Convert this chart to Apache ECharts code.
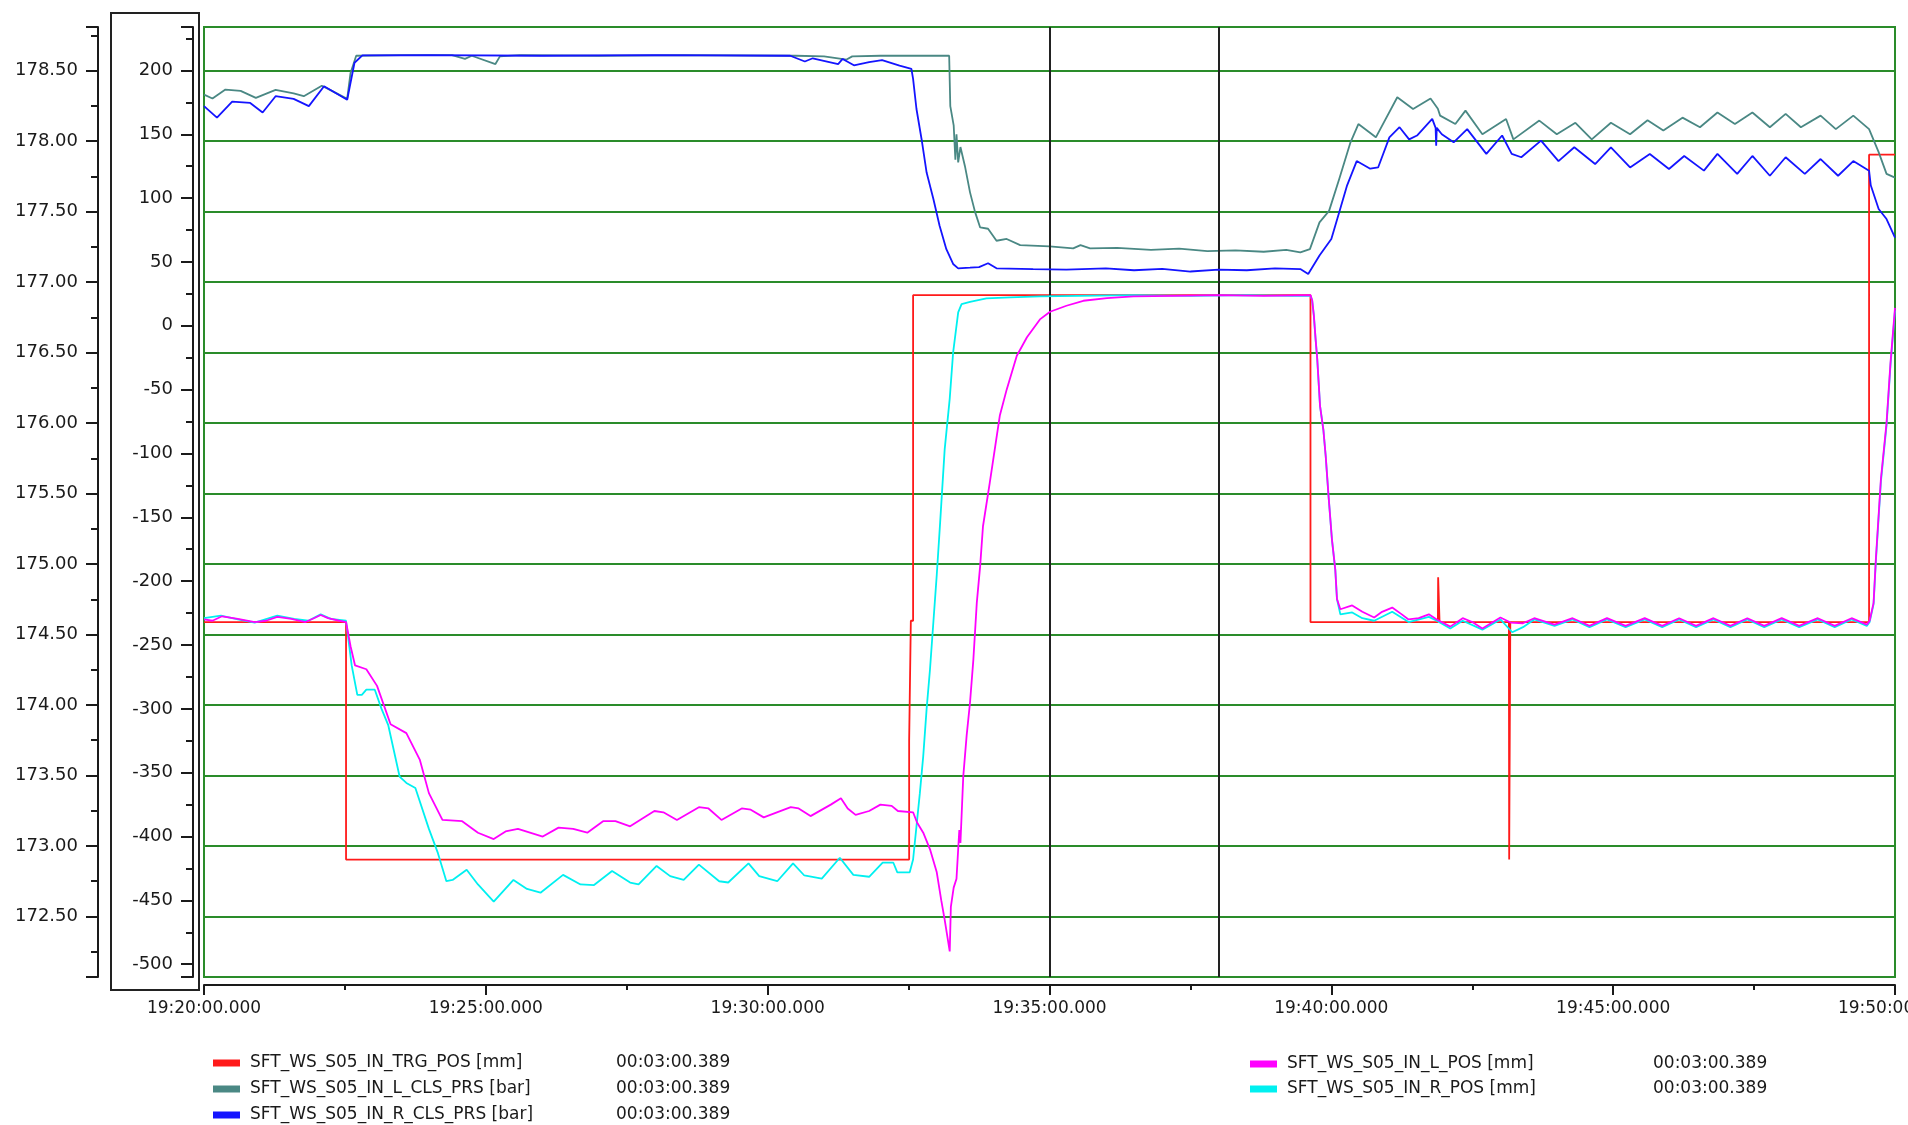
<!DOCTYPE html>
<html>
<head>
<meta charset="utf-8">
<script src="https://cdn.jsdelivr.net/npm/echarts@6/dist/echarts.min.js"></script>
<style>
html,body{margin:0;padding:0;background:#fff;}
#chart{width:1908px;height:1125px;}
</style>
</head>
<body>
<div id="chart"></div>
<script>
// Time values are minutes after 19:20:00.000
const seriesNames = [
  'SFT_WS_S05_IN_TRG_POS [mm]',
  'SFT_WS_S05_IN_L_CLS_PRS [bar]',
  'SFT_WS_S05_IN_R_CLS_PRS [bar]',
  'SFT_WS_S05_IN_L_POS [mm]',
  'SFT_WS_S05_IN_R_POS [mm]'
];
const cursorDelta = '00:03:00.389';
const cursorTimes = [15, 18.0065];
const xTickMinutes = [0, 5, 10, 15, 20, 25, 30];

const trgPos = [
  [0,-232],[2.52,-232],[2.52,-418],[12.51,-418],[12.51,-325],[12.54,-325],[12.54,-231],[12.58,-231],[12.58,24],
  [19.63,24],[19.63,-232],[21.89,-232],[21.895,-197],[21.915,-197],[21.92,-232],
  [23.15,-232],[23.155,-418],[23.17,-418],[23.175,-232],[29.54,-232],[29.54,134],[30,134]
];

const lClsPrs = [
  [0,181],[0.15,178],[0.38,185],[0.65,184],[0.92,178.5],[1.27,184.7],[1.59,182],[1.77,179.8],[2.09,188],[2.27,184],[2.54,177.7],
  [2.6,198],[2.7,211.5],[3.5,212],[4.4,212],[4.63,209],[4.75,211.5],[5.17,205],[5.25,211],[5.6,212],[7,211.5],[8.5,212],
  [10.5,211.5],[11.0,211],[11.4,208.5],[11.5,211],[12,211.5],[13.22,211.5],
  [13.24,172],[13.3,157],[13.33,130],[13.35,150],[13.38,128],[13.42,140],[13.5,125],[13.59,104.5],[13.68,89],[13.77,77],
  [13.91,76],[14.06,66.6],[14.24,68],[14.48,63.2],[15.0,62.2],[15.42,60.6],[15.55,63.2],[15.72,60.6],
  [16.2,61],[16.8,59.5],[17.3,60.5],[17.8,58.5],[18.3,59],[18.8,58],[19.2,59.5],[19.45,57.5],[19.62,60],
  [19.79,81],[19.96,90],[20.14,115],[20.34,143.7],[20.48,158],[20.79,147.6],[21.17,179],[21.45,169.8],[21.76,178],
  [21.89,170],[21.93,164.6],[22.2,158],[22.38,168.5],[22.68,150],[23.1,162],[23.23,146],[23.69,160.7],[24.0,150],
  [24.33,159],[24.62,146],[24.96,159],[25.3,150],[25.61,161],[25.89,153],[26.23,163],[26.54,155.5],[26.85,167],
  [27.16,158],[27.47,167],[27.78,155.5],[28.06,166],[28.33,155.5],[28.68,164.6],[28.95,154],[29.26,164.6],
  [29.54,154],[29.71,136],[29.85,119],[30,116]
];

const rClsPrs = [
  [0,172],[0.23,163],[0.5,175.5],[0.82,174.5],[1.04,167],[1.27,179.8],[1.59,177.7],[1.86,172],[2.13,187.6],[2.54,177],
  [2.67,206],[2.81,211.8],[4,212],[6,211.5],[8,212],[10.4,211.5],[10.66,207],[10.8,209.5],[11.25,205],[11.33,209],
  [11.53,204],[11.8,206.5],[12.03,208],[12.34,203.8],[12.55,201.2],[12.58,193.3],[12.64,169.8],[12.73,146.3],[12.82,120],
  [12.94,99.3],[13.05,78.4],[13.17,60],[13.29,48.4],[13.38,45],[13.59,45.5],[13.75,46],[13.91,49],[14.06,45],[14.71,44.4],
  [15.3,44],[16,45],[16.5,43.5],[17,44.5],[17.5,42.5],[18,44],[18.5,43.5],[19,45],[19.45,44.4],[19.59,40.5],
  [19.79,55],[20.0,68],[20.14,89],[20.28,110],[20.45,129],[20.69,123],[20.83,124],[21.03,147.6],[21.21,155.5],
  [21.38,146],[21.52,149],[21.79,162],[21.85,155],[21.86,141],[21.87,155],[21.96,150],[22.17,143.7],[22.41,154],
  [22.75,134.6],[23.03,149],[23.2,134.6],[23.37,132],[23.72,145],[24.03,129],[24.31,139.8],[24.68,126.7],[24.96,139.8],
  [25.3,124],[25.65,134.6],[25.99,122.8],[26.26,133],[26.61,121.5],[26.85,134.6],[27.2,119],[27.47,133],[27.78,117.5],
  [28.06,132],[28.4,119],[28.68,130.6],[28.99,117.5],[29.26,129],[29.54,121.5],[29.57,110],[29.71,91.5],[29.85,83.6],[30,69]
];

const lPos = [
  [0,-230],[0.15,-231],[0.32,-227.5],[0.6,-229.5],[0.9,-232],[1.1,-231],[1.3,-228],[1.55,-229.5],[1.8,-232],[1.95,-229],
  [2.07,-226.5],[2.2,-229],[2.4,-231],[2.52,-232],
  [2.6,-251],[2.68,-266],[2.88,-269],[3.07,-282],[3.31,-312],[3.59,-319],[3.83,-340],[3.99,-366],[4.23,-387],[4.58,-388],
  [4.86,-397],[5.14,-402],[5.35,-396],[5.57,-394],[6.01,-400],[6.29,-393],[6.55,-394],[6.8,-397],[7.08,-388],[7.3,-388],
  [7.56,-392],[7.99,-380],[8.15,-381],[8.39,-387],[8.78,-377],[8.95,-378],[9.18,-387],[9.54,-378],[9.7,-379],[9.93,-385],
  [10.41,-377],[10.55,-378],[10.76,-384],[11.12,-375],[11.3,-370],[11.42,-378],[11.56,-383],[11.8,-380],[12.0,-375],
  [12.2,-376],[12.31,-380],[12.58,-381],[12.65,-389],[12.76,-397],[12.88,-410],[13.0,-428],[13.08,-450],[13.14,-465],
  [13.23,-490],[13.25,-455],[13.3,-440],[13.35,-433],[13.38,-410],[13.4,-395],[13.42,-405],[13.47,-353],[13.53,-321],
  [13.59,-295],[13.65,-261],[13.71,-217],[13.77,-188],[13.82,-157],[13.94,-123],[14.12,-70],[14.24,-50],[14.42,-23.5],
  [14.6,-9],[14.83,5],[15.01,11],[15.3,15.7],[15.6,19.6],[16.02,21.7],[16.49,23],[17.2,23.5],[18,24],[18.8,23.5],[19.63,24],
  [19.66,20],[19.69,8],[19.72,-10],[19.75,-26],[19.8,-63],[19.86,-82],[19.9,-102],[19.95,-133],[20.01,-167],[20.07,-191],
  [20.1,-214],[20.16,-222],[20.37,-219],[20.55,-224],[20.76,-228.5],[20.9,-224],[21.08,-220.7],[21.25,-226],[21.37,-230],
  [21.55,-229],[21.73,-226],[21.87,-230],[22.11,-235.6],[22.33,-229],[22.5,-232],[22.68,-237],[23.0,-228.5],[23.18,-232.4],
  [23.4,-233],[23.6,-229],[23.96,-234],[24.28,-229],[24.58,-235],[24.89,-229],[25.22,-235],[25.56,-229],[25.87,-235],
  [26.17,-229],[26.47,-235],[26.78,-229],[27.08,-235],[27.38,-229],[27.68,-235],[27.99,-229],[28.3,-235],[28.63,-229],
  [28.93,-235],[29.23,-229],[29.5,-234],[29.55,-231],[29.62,-217],[29.66,-183],[29.75,-120],[29.85,-76],[29.92,-29],[30,14]
];

const rPos = [
  [0,-229],[0.3,-227],[0.6,-230],[0.9,-232.5],[1.3,-227],[1.6,-229.5],[1.85,-231],[2.07,-226],[2.25,-229.5],[2.52,-231],
  [2.62,-266],[2.72,-289],[2.8,-289],[2.88,-285],[3.03,-285],[3.15,-300],[3.27,-313],[3.47,-353],[3.59,-358],[3.75,-362],
  [3.99,-394],[4.15,-413],[4.3,-435],[4.41,-434],[4.66,-426],[4.86,-437.5],[5.14,-451],[5.49,-434],[5.73,-441],[5.97,-444],
  [6.37,-430],[6.68,-437.5],[6.92,-438],[7.24,-427],[7.56,-436],[7.71,-437.5],[8.03,-423],[8.27,-431],[8.51,-434],
  [8.78,-422],[9.14,-435],[9.3,-436],[9.66,-421],[9.85,-431],[10.17,-435],[10.45,-421],[10.65,-430.5],[10.96,-433],
  [11.28,-416.6],[11.52,-430],[11.8,-431.5],[12.04,-420.5],[12.23,-420.5],[12.3,-428],[12.52,-428],[12.58,-418],
  [12.64,-392],[12.7,-366],[12.76,-337],[12.82,-300],[12.88,-269],[12.94,-232],[13.0,-195],[13.06,-154],[13.14,-97],
  [13.23,-57],[13.29,-21],[13.38,10.5],[13.44,17],[13.59,18.8],[13.88,21.5],[14.3,22.2],[14.83,23],[15.5,23.5],[16.5,24],
  [17.5,23.5],[18.5,24],[19.3,23.5],[19.63,23.5],
  [19.66,20],[19.69,8],[19.72,-10],[19.75,-26],[19.8,-63],[19.86,-82],[19.9,-102],[19.95,-133],[20.01,-167],[20.07,-191],
  [20.1,-214],[20.16,-226],[20.37,-224.5],[20.55,-229],[20.76,-231],[21.08,-224],[21.37,-232],[21.73,-228],[21.87,-231],
  [22.11,-237],[22.33,-231],[22.68,-238],[23.0,-230],[23.21,-240],[23.4,-236],[23.6,-230],[23.96,-235],[24.28,-230],
  [24.58,-236],[24.89,-230],[25.22,-236],[25.56,-230],[25.87,-236],[26.17,-230],[26.47,-236],[26.78,-230],[27.08,-236],
  [27.38,-230],[27.68,-236],[27.99,-230],[28.3,-236],[28.63,-230],[28.93,-236],[29.23,-230],[29.5,-235],[29.55,-232],
  [29.62,-218],[29.66,-185],[29.75,-122],[29.85,-78],[29.92,-31],[30,12]
];

const FONT = 'DejaVu Sans';
const TXT = '#1a1a1a';
const GREEN = '#2a8c2a';

function pad(n){ return (n < 10 ? '0' : '') + n; }
function timeLabel(v){
  const totalSec = Math.round((19*3600 + 20*60 + v*60) * 1000) / 1000;
  const h = Math.floor(totalSec / 3600);
  const m = Math.floor((totalSec % 3600) / 60);
  const s = Math.floor(totalSec % 60);
  const ms = Math.round((totalSec - Math.floor(totalSec)) * 1000);
  return h + ':' + pad(m) + ':' + pad(s) + '.' + String(ms).padStart(3, '0');
}

const chart = echarts.init(document.getElementById('chart'), null, {renderer: 'canvas'});

function mkLine(name, data, color, z, extra) {
  return Object.assign({
    name: name, type: 'line', data: data, yAxisIndex: 0, xAxisIndex: 0,
    showSymbol: false, symbol: 'none', animation: false, z: z,
    lineStyle: {color: color, width: 1.8}, itemStyle: {color: color}
  }, extra || {});
}

const richFor = {
  p: {width: 5, fontFamily: FONT, fontSize: 17, color: TXT, lineHeight: 20},
  n: {width: 366, fontFamily: FONT, fontSize: 17, color: TXT, lineHeight: 20},
  t: {fontFamily: FONT, fontSize: 17, color: TXT, lineHeight: 20}
};
const legendCommon = {
  orient: 'vertical', itemWidth: 27, itemHeight: 7, itemGap: 5.5, icon: 'rect', selectedMode: false,
  padding: 0,
  formatter: function(name){ return '{p| }{n|' + name + '}{t|' + cursorDelta + '}'; },
  textStyle: {fontFamily: FONT, fontSize: 17, color: TXT, lineHeight: 20, rich: richFor}
};

const option = {
  backgroundColor: '#ffffff',
  animation: false,
  textStyle: {fontFamily: FONT},
  grid: {left: 204, right: 13, top: 27, bottom: 148, show: true, borderColor: GREEN, borderWidth: 2,
         backgroundColor: 'transparent', containLabel: false, outerBoundsMode: 'none'},
  xAxis: {
    type: 'value', min: 0, max: 30, interval: 5, offset: 8,
    axisLine: {show: true, onZero: false, lineStyle: {color: TXT, width: 2}},
    axisTick: {show: true, length: 10, lineStyle: {color: TXT, width: 2}},
    minorTick: {show: true, splitNumber: 2, length: 5, lineStyle: {color: TXT, width: 2}},
    splitLine: {show: false},
    axisLabel: {margin: 15, fontFamily: FONT, fontSize: 17, color: TXT, formatter: timeLabel,
                showMinLabel: true, showMaxLabel: true, hideOverlap: false}
  },
  yAxis: [
    {
      type: 'value', position: 'left', offset: 11, min: -510, max: 234,
      minInterval: 50, maxInterval: 50, splitNumber: 14,
      axisLine: {show: true, onZero: false, lineStyle: {color: TXT, width: 2}},
      axisTick: {show: true, length: 12, lineStyle: {color: TXT, width: 2}},
      minorTick: {show: true, splitNumber: 2, length: 7, lineStyle: {color: TXT, width: 2}},
      splitLine: {show: false},
      axisLabel: {margin: 20, fontFamily: FONT, fontSize: 18, color: TXT, showMinLabel: false, showMaxLabel: false}
    },
    {
      type: 'value', position: 'left', offset: 106, min: 172.07, max: 178.81,
      minInterval: 0.5, maxInterval: 0.5, splitNumber: 13,
      axisLine: {show: true, onZero: false, lineStyle: {color: TXT, width: 2}},
      axisTick: {show: true, length: 12, lineStyle: {color: TXT, width: 2}},
      minorTick: {show: true, splitNumber: 2, length: 7, lineStyle: {color: TXT, width: 2}},
      splitLine: {show: true, lineStyle: {color: GREEN, width: 2}},
      axisLabel: {margin: 20, fontFamily: FONT, fontSize: 18, color: TXT, showMinLabel: false, showMaxLabel: false,
                  formatter: function(v){ return v.toFixed(2); }}
    }
  ],
  legend: [
    Object.assign({left: 213, top: 1053, data: seriesNames.slice(0, 3)}, legendCommon, {itemGap: 6}),
    Object.assign({left: 1250, top: 1054, data: seriesNames.slice(3, 5)}, legendCommon, {itemGap: 5})
  ],
  graphic: [
    {type: 'rect', z: 100, silent: true, shape: {x: 111, y: 13, width: 88, height: 977},
     style: {fill: 'none', stroke: '#222', lineWidth: 2}}
  ],
  series: [
    mkLine(seriesNames[0], trgPos, '#ff1a1a', 3, {
      markLine: {
        silent: true, symbol: ['none', 'none'], label: {show: false}, animation: false,
        lineStyle: {color: '#222', width: 2, type: 'solid'},
        data: cursorTimes.map(function(t){ return {xAxis: t}; })
      }
    }),
    mkLine(seriesNames[1], lClsPrs, '#4a8884', 4),
    mkLine(seriesNames[2], rClsPrs, '#1414ff', 5),
    mkLine(seriesNames[4], rPos, '#00f0f0', 6),
    mkLine(seriesNames[3], lPos, '#ff00ff', 7)
  ]
};
chart.setOption(option);
</script>
</body>
</html>
